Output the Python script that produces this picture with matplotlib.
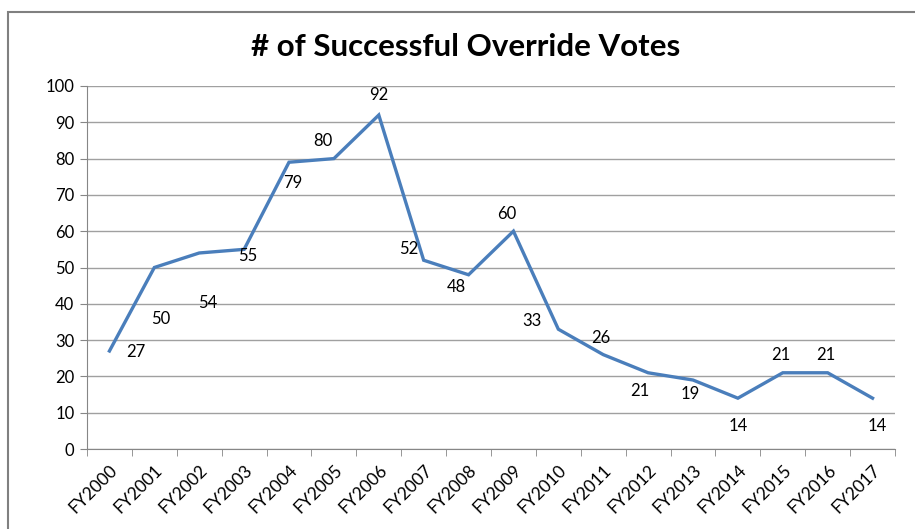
import matplotlib.pyplot as plt
from matplotlib.patches import Rectangle

years = ["FY2000", "FY2001", "FY2002", "FY2003", "FY2004", "FY2005", "FY2006",
         "FY2007", "FY2008", "FY2009", "FY2010", "FY2011", "FY2012", "FY2013",
         "FY2014", "FY2015", "FY2016", "FY2017"]
votes = [27, 50, 54, 55, 79, 80, 92, 52, 48, 60, 33, 26, 21, 19, 14, 21, 21, 14]

# label offsets in pixels (dx, dy) relative to each point
label_offsets = [(26, -1), (6, -51), (9, -50), (4, -7), (4, -21), (-11, 18), (0, 20),
                 (-15, 11), (-12, -12), (-7, 17), (-26, 8), (-2, 17), (-8, -18),
                 (-3, -14), (0, -28), (-2, 18), (-2, 18), (5, -28)]

plt.rcParams['font.family'] = ['Lato', 'DejaVu Sans']

fig = plt.figure(figsize=(9.15, 5.29), dpi=100)
ax = fig.add_axes([87/915, 1-449/529, (895-87)/915, (449-86)/529])

# chart area border
fig.patches.append(Rectangle((8/915, -0.1), 1.2, 1-12/529+0.1, transform=fig.transFigure,
                             fill=False, edgecolor='#808080', linewidth=1.5))

x = list(range(len(years)))
ax.plot(x, votes, color='#4A7EBB', linewidth=2.4, solid_joinstyle='miter', zorder=3)

for i, (v, (dx, dy)) in enumerate(zip(votes, label_offsets)):
    ax.annotate(str(v), (i, v), xytext=(dx, dy), textcoords='offset pixels',
                ha='center', va='center', fontsize=12, color='black')

ax.set_xlim(-0.5, len(years) - 0.5)
ax.set_ylim(0, 100)
ax.set_yticks(range(0, 101, 10))
ax.grid(axis='y', color='#A0A0A0', linewidth=1.0)
ax.set_axisbelow(True)

ax.set_xticks(x)
ax.set_xticklabels(years, rotation=45, ha='right', rotation_mode='anchor')
ax.set_xticks([i - 0.5 for i in range(len(years) + 1)], minor=True)
ax.tick_params(axis='x', which='major', length=0, pad=9, labelsize=12.5)
ax.tick_params(axis='x', which='minor', length=5, color='#868686')
ax.tick_params(axis='y', length=5, color='#868686', labelsize=12, pad=4)

for s in ['top', 'right']:
    ax.spines[s].set_visible(False)
for s in ['left', 'bottom']:
    ax.spines[s].set_color('#868686')

fig.text(466/915, 1-47/529, "# of Successful Override Votes", ha='center', va='center',
         fontsize=22.5, fontweight='bold')

fig.savefig('out.png', dpi=100)
